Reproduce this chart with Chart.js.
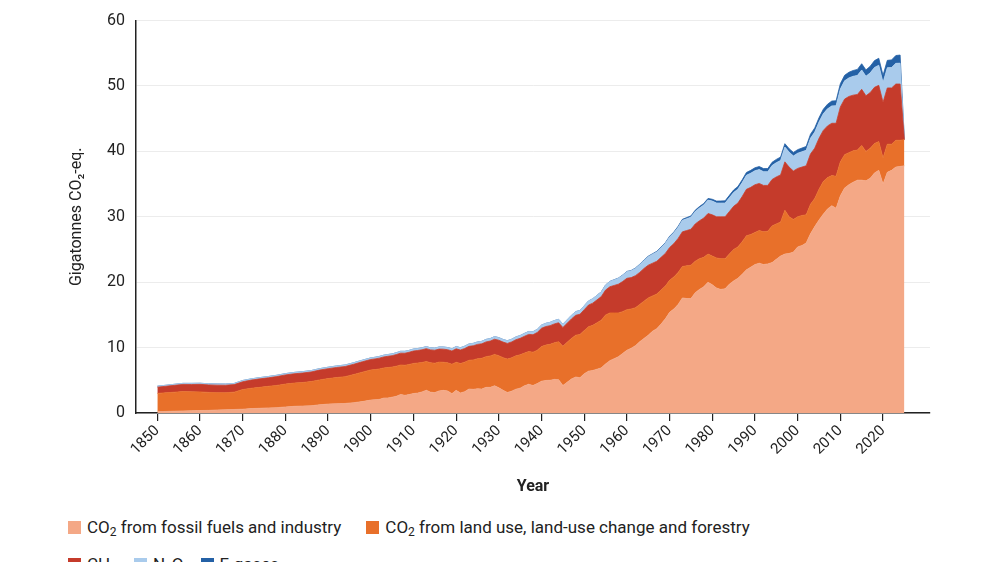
<!DOCTYPE html>
<html>
<head>
<meta charset="utf-8">
<script src="https://cdn.jsdelivr.net/npm/chart.js@4.4.1/dist/chart.umd.min.js"></script>
<style>
  html, body { margin: 0; padding: 0; background: #fff; }
  body { width: 1000px; height: 562px; overflow: hidden; position: relative; font-family: Roboto, "Noto Sans", sans-serif; }
  #wrap { position: absolute; left: 0; top: 0; width: 1000px; height: 500px; }
  .legend { position: absolute; left: 68px; display: flex; align-items: center; font-size: 17px; color: #222; white-space: nowrap; }
  .legend .item { display: flex; align-items: center; }
  .legend .box { width: 13px; height: 13px; margin-right: 6px; }
  .legend sub { font-size: 12px; vertical-align: -3px; line-height: 0; }
  #legendRow1 .item { margin-right: 25px; }
  #legendRow2 .item { margin-right: 17px; }
</style>
</head>
<body>
<div id="wrap"><canvas id="ghgChart"></canvas></div>
<div class="legend" id="legendRow1" style="top:517px"></div>
<div class="legend" id="legendRow2" style="top:554px"></div>

<script>
// years: every 2nd year before 1900, yearly after
const years = [
  1850, 1852, 1854, 1856, 1858, 1860, 1862, 1864, 1866, 1868, 1870, 1872, 1874, 1876, 1878, 1880, 1882, 1884, 1886, 1888, 1890, 1892, 1894, 1896, 1898,
  1900, 1901, 1902, 1903, 1904, 1905, 1906, 1907, 1908, 1909,
  1910, 1911, 1912, 1913, 1914, 1915, 1916, 1917, 1918, 1919,
  1920, 1921, 1922, 1923, 1924, 1925, 1926, 1927, 1928, 1929,
  1930, 1931, 1932, 1933, 1934, 1935, 1936, 1937, 1938, 1939,
  1940, 1941, 1942, 1943, 1944, 1945, 1946, 1947, 1948, 1949,
  1950, 1951, 1952, 1953, 1954, 1955, 1956, 1957, 1958, 1959,
  1960, 1961, 1962, 1963, 1964, 1965, 1966, 1967, 1968, 1969,
  1970, 1971, 1972, 1973, 1974, 1975, 1976, 1977, 1978, 1979,
  1980, 1981, 1982, 1983, 1984, 1985, 1986, 1987, 1988, 1989,
  1990, 1991, 1992, 1993, 1994, 1995, 1996, 1997, 1998, 1999,
  2000, 2001, 2002, 2003, 2004, 2005, 2006, 2007, 2008, 2009,
  2010, 2011, 2012, 2013, 2014, 2015, 2016, 2017, 2018, 2019,
  2020, 2021, 2022, 2023, 2024, 2025
]

// Gt CO2-eq.
const co2Fossil = [
  0.20, 0.24, 0.28, 0.32, 0.34, 0.38, 0.40, 0.46, 0.50, 0.54, 0.58, 0.68, 0.72, 0.78, 0.82, 0.92, 1.02, 1.06, 1.10, 1.26, 1.36, 1.42, 1.46, 1.58, 1.74,
  1.98, 2.04, 2.08, 2.28, 2.30, 2.42, 2.56, 2.84, 2.70, 2.82,
  2.98, 3.04, 3.22, 3.48, 3.18, 3.12, 3.38, 3.46, 3.38, 2.96,
  3.46, 3.06, 3.26, 3.66, 3.62, 3.70, 3.66, 3.92, 3.92, 4.16,
  3.86, 3.46, 3.14, 3.34, 3.64, 3.80, 4.16, 4.40, 4.20, 4.50,
  4.86, 4.98, 5.00, 5.14, 5.10, 4.20, 4.70, 5.20, 5.50, 5.40,
  6.0, 6.4, 6.5, 6.7, 6.9, 7.5, 8.0, 8.3, 8.6, 9.1,
  9.6, 9.9, 10.3, 10.9, 11.4, 11.9, 12.5, 12.9, 13.6, 14.4,
  15.4, 15.9, 16.6, 17.6, 17.5, 17.5, 18.4, 18.9, 19.3, 20.0,
  19.6, 19.1, 18.9, 19.0, 19.7, 20.2, 20.6, 21.2, 21.9, 22.3,
  22.7, 22.9, 22.7, 22.8, 23.0, 23.5, 24.0, 24.3, 24.4, 24.6,
  25.4, 25.6, 26.0, 27.4, 28.5, 29.5, 30.4, 31.2, 31.7, 31.3,
  33.2, 34.4, 34.9, 35.3, 35.6, 35.6, 35.5, 35.9, 36.7, 37.1,
  35.0, 36.8, 37.1, 37.6, 37.7, 37.8
]

const co2Land = [
  2.80, 2.85, 2.90, 2.95, 2.90, 2.85, 2.75, 2.65, 2.60, 2.65, 3.00, 3.10, 3.20, 3.30, 3.40, 3.50, 3.55, 3.60, 3.70, 3.80, 3.90, 4.00, 4.10, 4.30, 4.50,
  4.6, 4.6, 4.65, 4.6, 4.65, 4.6, 4.6, 4.5, 4.6, 4.6,
  4.6, 4.6, 4.5, 4.4, 4.5, 4.5, 4.4, 4.3, 4.3, 4.5,
  4.3, 4.5, 4.5, 4.4, 4.5, 4.6, 4.7, 4.7, 4.8, 4.8,
  4.9, 5.0, 5.1, 5.1, 5.1, 5.1, 5.0, 5.0, 5.1, 5.1,
  5.3, 5.4, 5.5, 5.6, 5.8, 6.0, 6.1, 6.2, 6.4, 6.6,
  6.6, 6.8, 6.9, 7.1, 7.3, 7.5, 7.3, 7.0, 6.7, 6.4,
  6.2, 6.0, 5.8, 5.7, 5.7, 5.7, 5.4, 5.3, 5.2, 5.0,
  4.9, 4.9, 4.9, 4.8, 5.0, 5.1, 4.8, 4.7, 4.5, 4.3,
  4.4, 4.6, 4.7, 4.6, 4.6, 4.8, 4.8, 5.0, 5.2, 5.0,
  4.9, 5.0, 5.0, 5.0, 5.6, 5.4, 5.2, 6.7, 5.6, 5.0,
  4.6, 4.6, 4.3, 4.5, 4.3, 4.7, 5.0, 4.8, 4.6, 4.9,
  5.2, 5.1, 4.9, 4.8, 4.6, 5.3, 4.5, 4.6, 4.5, 4.4,
  4.0, 4.3, 4.0, 4.1, 4.0, 4.0
]

const ch4 = [
  0.95, 1.00, 1.05, 1.10, 1.12, 1.15, 1.15, 1.15, 1.15, 1.15, 1.20, 1.25, 1.30, 1.30, 1.35, 1.40, 1.42, 1.45, 1.47, 1.50, 1.52, 1.54, 1.55, 1.57, 1.59,
  1.60, 1.63, 1.66, 1.69, 1.72, 1.75, 1.78, 1.81, 1.84, 1.87,
  1.90, 1.92, 1.94, 1.96, 1.97, 1.98, 1.99, 2.00, 2.00, 2.02,
  2.05, 2.07, 2.10, 2.13, 2.16, 2.19, 2.22, 2.25, 2.28, 2.32,
  2.36, 2.38, 2.40, 2.43, 2.47, 2.52, 2.57, 2.62, 2.67, 2.72,
  2.80, 2.84, 2.86, 2.88, 2.90, 2.88, 2.92, 2.98, 3.04, 3.10,
  3.2, 3.3, 3.4, 3.5, 3.6, 3.8, 4.0, 4.2, 4.4, 4.6,
  4.8, 4.8, 4.9, 4.9, 5.0, 5.0, 5.0, 5.0, 5.0, 5.0,
  5.0, 5.1, 5.2, 5.3, 5.4, 5.5, 5.7, 5.8, 6.0, 6.2,
  6.3, 6.3, 6.4, 6.4, 6.5, 6.6, 6.7, 6.9, 7.1, 7.2,
  7.3, 7.2, 7.1, 7.0, 7.1, 7.2, 7.2, 7.4, 7.6, 7.4,
  7.4, 7.4, 7.5, 7.7, 7.7, 7.8, 7.8, 7.9, 8.0, 8.1,
  8.4, 8.5, 8.6, 8.5, 8.5, 8.6, 8.5, 8.5, 8.6, 8.6,
  8.5, 8.6, 8.6, 8.6, 8.6, 0
]

const n2o = [
  0.15, 0.15, 0.16, 0.16, 0.17, 0.17, 0.17, 0.18, 0.18, 0.18, 0.19, 0.19, 0.19, 0.20, 0.20, 0.20, 0.21, 0.21, 0.21, 0.22, 0.22, 0.23, 0.23, 0.24, 0.24,
  0.25, 0.25, 0.26, 0.26, 0.27, 0.27, 0.28, 0.28, 0.29, 0.29,
  0.30, 0.30, 0.31, 0.31, 0.31, 0.32, 0.32, 0.33, 0.33, 0.34,
  0.35, 0.35, 0.36, 0.36, 0.37, 0.37, 0.38, 0.38, 0.39, 0.40,
  0.40, 0.40, 0.41, 0.41, 0.42, 0.43, 0.44, 0.45, 0.46, 0.47,
  0.48, 0.49, 0.50, 0.51, 0.52, 0.52, 0.53, 0.55, 0.56, 0.58,
  0.60, 0.63, 0.66, 0.69, 0.72, 0.75, 0.80, 0.85, 0.90, 0.95,
  1.00, 1.05, 1.11, 1.17, 1.23, 1.30, 1.36, 1.42, 1.48, 1.54,
  1.60, 1.65, 1.70, 1.76, 1.80, 1.85, 1.90, 1.95, 2.00, 2.05,
  2.10, 2.10, 2.10, 2.10, 2.12, 2.12, 2.13, 2.14, 2.15, 2.16,
  2.15, 2.13, 2.10, 2.10, 2.14, 2.18, 2.22, 2.26, 2.29, 2.30,
  2.32, 2.34, 2.37, 2.41, 2.46, 2.50, 2.56, 2.61, 2.66, 2.68,
  2.75, 2.80, 2.84, 2.88, 2.92, 2.95, 2.98, 3.01, 3.04, 3.07,
  3.05, 3.10, 3.13, 3.16, 3.19, 0
]

const fGases = [
  0, 0, 0, 0, 0, 0, 0, 0, 0, 0, 0, 0, 0, 0, 0, 0, 0, 0, 0, 0, 0, 0, 0, 0, 0,
  0, 0, 0, 0, 0, 0, 0, 0, 0, 0, 0, 0, 0, 0, 0, 0, 0, 0, 0, 0, 0, 0, 0, 0, 0,
  0, 0, 0, 0, 0, 0, 0, 0, 0, 0, 0, 0, 0, 0, 0, 0, 0, 0, 0, 0, 0, 0, 0, 0, 0,
  0, 0, 0.01, 0.01, 0.01, 0.02, 0.02, 0.03, 0.03, 0.04,
  0.05, 0.05, 0.06, 0.07, 0.07, 0.08, 0.09, 0.10, 0.10, 0.11,
  0.12, 0.13, 0.15, 0.16, 0.18, 0.19, 0.21, 0.22, 0.24, 0.26,
  0.28, 0.30, 0.32, 0.34, 0.36, 0.38, 0.40, 0.41, 0.43, 0.44,
  0.45, 0.46, 0.47, 0.48, 0.49, 0.50, 0.51, 0.52, 0.53, 0.54,
  0.55, 0.57, 0.59, 0.61, 0.63, 0.65, 0.68, 0.71, 0.74, 0.76,
  0.80, 0.83, 0.86, 0.89, 0.92, 0.95, 0.98, 1.01, 1.04, 1.07,
  1.08, 1.12, 1.16, 1.20, 1.24, 0
]

const tickYears = [1850, 1860, 1870, 1880, 1890, 1900, 1910, 1920, 1930, 1940, 1950, 1960, 1970, 1980, 1990, 2000, 2010, 2020]

const series = [
  { label: "CO<sub>2</sub> from fossil fuels and industry", values: co2Fossil, color: "#f4a886" },
  { label: "CO<sub>2</sub> from land use, land-use change and forestry", values: co2Land, color: "#e8702a" },
  { label: "CH<sub>4</sub>", values: ch4, color: "#c53b2b" },
  { label: "N<sub>2</sub>O", values: n2o, color: "#a9cbec" },
  { label: "F-gases", values: fGases, color: "#2461a6" }
]

const datasets = series.map((s, i) => ({
  label: s.label.replace(/<\/?sub>/g, ""),
  data: s.values.map((v, j) => ({ x: years[j], y: v })),
  backgroundColor: s.color,
  borderColor: s.color,
  borderWidth: 0.8,
  pointRadius: 0,
  tension: 0,
  fill: i === 0 ? "origin" : "-1"
}))

new Chart(document.getElementById("ghgChart"), {
  type: "line",
  data: { datasets },
  options: {
    responsive: true,
    maintainAspectRatio: false,
    animation: false,
    layout: { padding: { top: 20, right: 70, left: 0, bottom: 0 } },
    plugins: { legend: { display: false }, tooltip: { enabled: false } },
    scales: {
      x: {
        type: "linear",
        min: 1845,
        max: 2031,
        afterBuildTicks: (scale) => { scale.ticks = tickYears.map(v => ({ value: v })) },
        afterFit: (scale) => { scale.height = 87 },
        ticks: {
          font: { family: "Roboto", size: 15 },
          color: "#222",
          maxRotation: 45,
          minRotation: 45,
          padding: 1,
          callback: (v) => String(v)
        },
        grid: { drawOnChartArea: false, drawTicks: true, tickLength: 8, color: "#222", lineWidth: 1.2 },
        border: { color: "#222", width: 1.5 },
        title: { display: true, text: "Year", color: "#222", font: { family: "Roboto", size: 16, weight: "bold" }, padding: { top: 4, bottom: 3 } }
      },
      y: {
        stacked: true,
        min: 0,
        max: 60,
        afterFit: (scale) => { scale.width = 136 },
        ticks: { stepSize: 10, font: { family: "Roboto", size: 16 }, color: "#222", padding: 11 },
        grid: { color: "#ececec", lineWidth: 1, drawTicks: false },
        border: { color: "#222", width: 1.5 },
        title: { display: true, text: "Gigatonnes CO₂-eq.", color: "#222", font: { family: "Roboto", size: 16 }, padding: { top: 67, bottom: 0 } }
      }
    }
  }
})

// HTML legend (keeps the subscripts)
function addLegendItem(row, s) {
  const item = document.createElement("span")
  item.className = "item"
  item.innerHTML = `<span class="box" style="background:${s.color}"></span><span>${s.label}</span>`
  row.appendChild(item)
}
const row1 = document.getElementById("legendRow1")
const row2 = document.getElementById("legendRow2")
series.forEach((s, i) => addLegendItem(i < 2 ? row1 : row2, s))
</script>
</body>
</html>
